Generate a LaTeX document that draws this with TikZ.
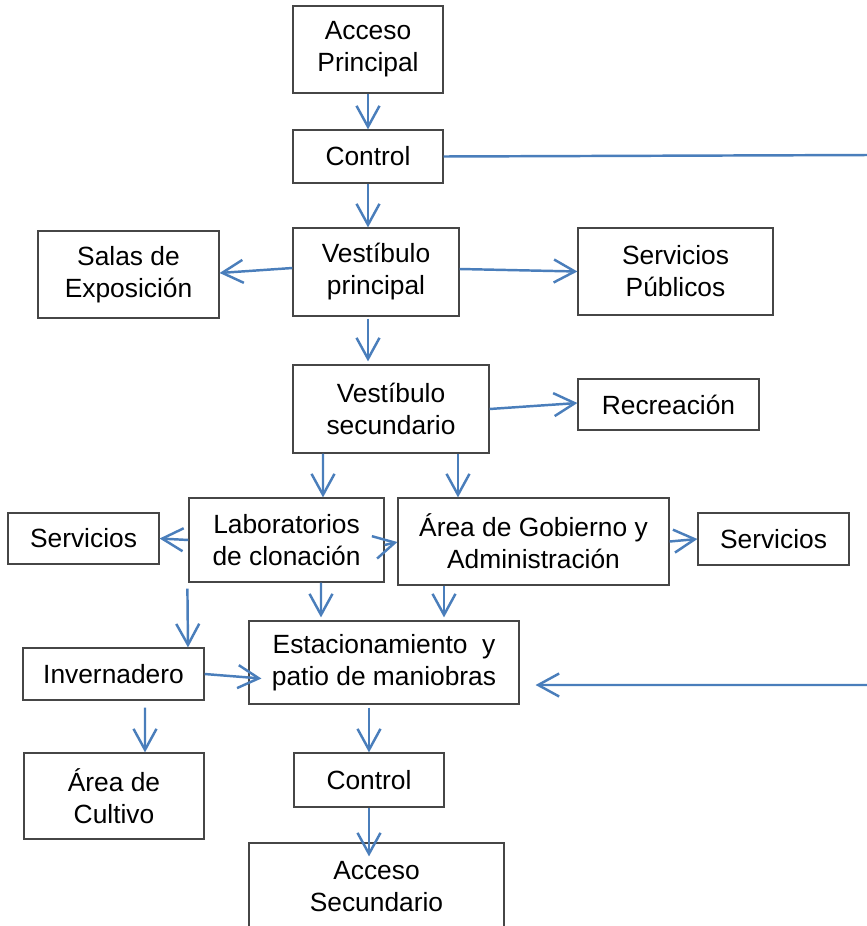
\documentclass[tikz,border=0pt]{standalone}
\usepackage{fontspec}
\setmainfont{Liberation Sans}
\usetikzlibrary{arrows.meta,calc}
\definecolor{azul}{RGB}{74,126,187}
\definecolor{borde}{RGB}{70,70,70}
\begin{document}
\begin{tikzpicture}[x=0.02cm,y=-0.02cm]
\tikzstyle{every node}+=[inner sep=0pt]
\tikzstyle{caja}=[draw=borde, line width=0.7pt, align=center, font=\fontsize{15}{18.2}\selectfont]
\tikzstyle{flecha}=[draw=azul, line width=1.4pt, -{Straight Barb[length=4.2mm,width=4.6mm,line width=1.4pt]}]
\useasboundingbox (0,0) rectangle (866,926);
\node [caja, minimum width=3cm, minimum height=1.74cm] (acc1) at (368,49.5) {Acceso\\Principal};
\node [caja, minimum width=3cm, minimum height=1.06cm] (ctrl1) at (368,156.5) {Control};
\node [caja, minimum width=3.32cm, minimum height=1.76cm] (vest1) at (376,272) {Vestíbulo\\principal};
\node [caja, minimum width=3.62cm, minimum height=1.74cm] (salas) at (128.5,274.5) {Salas de\\Exposición};
\node [caja, minimum width=3.9cm, minimum height=1.74cm] (servpub) at (675.5,271.5) {Servicios\\Públicos};
\node [caja, minimum width=3.92cm, minimum height=1.76cm] (vest2) at (391,409) {Vestíbulo\\secundario};
\node [caja, minimum width=3.62cm, minimum height=1.02cm] (recre) at (668.5,404.5) {Recreación};
\node [caja, minimum width=3.9cm, minimum height=1.68cm] (labs) at (286.5,540) {Laboratorios\\de clonación};
\node [caja, minimum width=5.42cm, minimum height=1.74cm] (area) at (533.5,541.5) {Área de Gobierno y\\Administración};
\node [caja, minimum width=3.02cm, minimum height=1.02cm] (serv1) at (83.5,538.5) {Servicios};
\node [caja, minimum width=3.02cm, minimum height=1.04cm] (serv2) at (773.5,539) {Servicios};
\node [caja, minimum width=5.4cm, minimum height=1.66cm] (park) at (384,662.5) {Estacionamiento\ \ y\\patio de maniobras};
\node [caja, minimum width=3.62cm, minimum height=1.04cm] (inver) at (113.5,674) {Invernadero};
\node [caja, minimum width=3.6cm, minimum height=1.72cm] (cult) at (114,796) {Área de\\Cultivo};
\node [caja, minimum width=3cm, minimum height=1.08cm] (ctrl2) at (369,780) {Control};
\node [caja, minimum width=5.1cm, minimum height=1.76cm] (acc2) at (376.5,887) {Acceso\\Secundario};
\coordinate (bordeA) at (870,155);
\coordinate (bordeB) at (870,685);
\draw [flecha] (acc1) -- (ctrl1);
\draw [flecha] (ctrl1) -- (vest1.north -| ctrl1);
\draw [flecha] ($(vest1.west)+(0,-4)$) -- ($(salas.east)+(0,-1.5)$);
\draw [flecha] ($(vest1.east)+(0,-3)$) -- (servpub.west);
\draw [flecha] ($(vest1.south -| ctrl1)+(0,2)$) -- ($(vest2.north -| ctrl1)+(0,-3)$);
\draw [flecha] (vest2.east) -- ($(recre.west)+(0,-1.5)$);
\draw [flecha] ($(vest2.south)+(-68,0)$) -- ($(labs.north)+(36.5,0)$);
\draw [flecha] ($(vest2.south)+(67,0)$) -- ($(area.north)+(-75.5,0)$);
\draw [flecha] (labs.west) -- (serv1.east);
\draw [flecha] ($(labs.east)+(0,5)$) -- ($(area.west)+(0,0.5)$);
\draw [flecha] (area.east) -- (serv2.west);
\draw [flecha] ($(labs.south)+(34.5,0)$) -- ($(park.north)+(-63,-3)$);
\draw [flecha] ($(area.south)+(-89.5,0)$) -- ($(park.north)+(60,-3)$);
\draw [flecha] ($(labs.south west)+(-1,6)$) -- ($(inver.north)+(74.5,0)$);
\draw [flecha] (inver.east) -- ($(park.west)+(13,16)$);
\draw [flecha] ($(inver.south)+(31.5,7)$) -- ($(cult.north)+(31,0)$);
\draw [flecha] ($(park.south)+(-15,3)$) -- (ctrl2.north);
\draw [flecha] (ctrl2.south) -- ($(acc2.north -| ctrl2)+(0,14)$);
\draw [flecha] (ctrl1.east) -- (bordeA) -- (bordeB) -- ($(park.east)+(16,22.5)$);
\end{tikzpicture}
\end{document}
